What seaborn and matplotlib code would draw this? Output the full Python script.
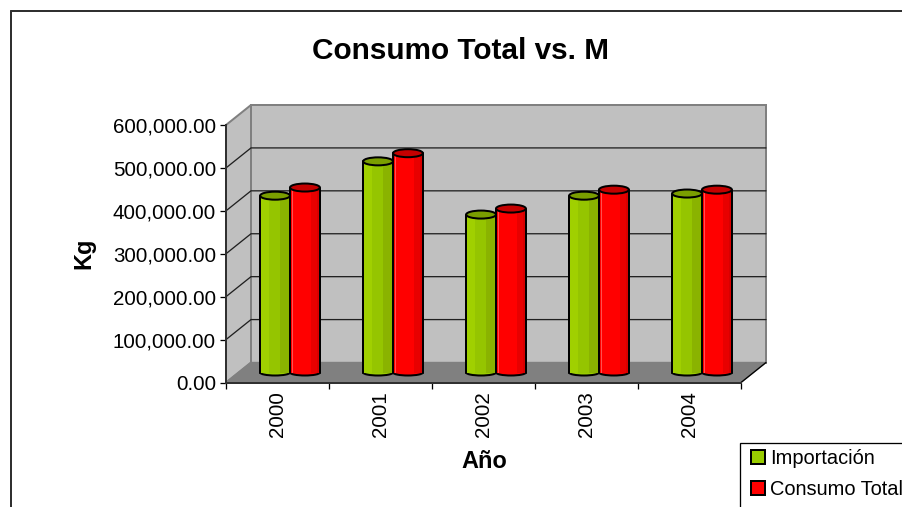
import matplotlib
matplotlib.use("Agg")
import matplotlib.pyplot as plt
from matplotlib.lines import Line2D
from matplotlib.patches import Ellipse, Patch, Polygon, Rectangle
from matplotlib.transforms import Affine2D, IdentityTransform
import pandas as pd
import seaborn as sns

years = ["2000", "2001", "2002", "2003", "2004"]
importacion = [412000, 492000, 368000, 412000, 417000]
consumo_total = [431000, 511000, 382000, 426000, 426000]
series_names = ["Importación", "Consumo Total"]
y_ticks = [0, 100000, 200000, 300000, 400000, 500000, 600000]

WIDTH, HEIGHT, DPI = 902, 507, 100
LEFT, RIGHT, BOTTOM, TOP = 226, 741, 382.5, 125
DEPTH_X, DEPTH_Y = 25, 20
WALL, FLOOR, WALL_EDGE = "#c0c0c0", "#808080", "#808080"
FILLS = ["#99cc00", "#ff0000"]
CAPS = ["#7a9e00", "#c40000"]
BANDS = [
    [(0.0, 0.30, "#a0d000"), (0.30, 0.65, "#95c500"), (0.65, 1.0, "#8ab300")],
    [(0.0, 0.06, "#ff0000"), (0.06, 0.10, "#ff5050"), (0.10, 0.70, "#ff0000"),
     (0.70, 0.90, "#e80000"), (0.90, 1.0, "#d80000")],
]


def pt(px):
    return px * 72 / DPI


sns.set_theme(style="white")
plt.rcParams["font.family"] = ["Liberation Sans", "DejaVu Sans"]

fig = plt.figure(figsize=(WIDTH / DPI, HEIGHT / DPI), dpi=DPI, facecolor="white")
ax = fig.add_axes([LEFT / WIDTH, 1 - BOTTOM / HEIGHT,
                   (RIGHT - LEFT) / WIDTH, (BOTTOM - TOP) / HEIGHT])
ax.patch.set_visible(False)

table = pd.DataFrame({
    "year": years * 2,
    "kg": importacion + consumo_total,
    "serie": [series_names[0]] * len(years) + [series_names[1]] * len(years),
})
sns.barplot(data=table, x="year", y="kg", hue="serie", palette=FILLS,
            width=0.58, gap=0, dodge=True, saturation=1, errorbar=None,
            legend=False, linewidth=0, ax=ax, zorder=5)
ax.set_xlim(-0.5, len(years) - 0.5)
ax.set_ylim(0, y_ticks[-1])


def project(x, y, depth=0.0):
    """Display position of a data point pushed back by a fraction of the depth."""
    px, py = ax.transData.transform((x, y))
    return px + DEPTH_X * depth, py + DEPTH_Y * depth


def flat(points, **kw):
    ax.add_patch(Polygon(points, closed=True, transform=IdentityTransform(),
                         clip_on=False, **kw))


x0, x1 = ax.get_xlim()
y0, y1 = ax.get_ylim()
edge = pt(2)

# Walls and floor of the 3D box
flat([project(x0, y0), project(x0, y1), project(x0, y1, 1), project(x0, y0, 1)],
     facecolor=WALL, edgecolor=WALL_EDGE, linewidth=edge, zorder=1)
flat([project(x0, y0, 1), project(x0, y1, 1), project(x1, y1, 1), project(x1, y0, 1)],
     facecolor=WALL, edgecolor=WALL_EDGE, linewidth=edge, zorder=1)
flat([project(x0, y0), project(x1, y0), project(x1, y0, 1), project(x0, y0, 1)],
     facecolor=FLOOR, edgecolor=FLOOR, linewidth=1, zorder=2)

# Gridlines run along the side wall and across the back wall
for tick in y_ticks[1:-1]:
    a, b, c = project(x0, tick), project(x0, tick, 1), project(x1, tick, 1)
    ax.add_line(Line2D([a[0], b[0], c[0]], [a[1], b[1], c[1]], color="#202020",
                       linewidth=pt(1.3), transform=IdentityTransform(),
                       clip_on=False, zorder=3))
a, b = project(x1, y0), project(x1, y0, 1)
ax.add_line(Line2D([a[0], b[0]], [a[1], b[1]], color="black", linewidth=pt(1.3),
                   transform=IdentityTransform(), clip_on=False, zorder=3))

# Bars stand halfway into the box and get a cylinder look
mid_depth = Affine2D().translate(DEPTH_X / 2, DEPTH_Y / 2)
bar_tf = ax.transData + mid_depth
per_px = (y1 - y0) / (BOTTOM - TOP)
z = 5.0
for container, caps, bands in zip(ax.containers, CAPS, BANDS):
    for bar in container:
        bx, bw, bh = bar.get_x(), bar.get_width(), bar.get_height()
        cx = bx + bw / 2
        ax.add_patch(Ellipse((cx, 0), bw, 6 * per_px, facecolor=bar.get_facecolor(),
                             edgecolor="black", linewidth=edge, transform=bar_tf,
                             clip_on=False, zorder=z))
        bar.set_transform(bar_tf)
        bar.set_clip_on(False)
        bar.set_zorder(z + 0.1)
        for start, stop, color in bands:
            ax.add_patch(Rectangle((bx + start * bw, 0), (stop - start) * bw, bh,
                                   facecolor=color, edgecolor="none",
                                   transform=bar_tf, clip_on=False, zorder=z + 0.2))
        for side in (bx, bx + bw):
            ax.add_line(Line2D([side, side], [0, bh], color="black", linewidth=edge,
                               transform=bar_tf, clip_on=False, zorder=z + 0.3))
        ax.add_patch(Ellipse((cx, bh), bw, 8 * per_px, facecolor=caps,
                             edgecolor="black", linewidth=edge, transform=bar_tf,
                             clip_on=False, zorder=z + 0.4))
        z += 1

# Axes and ticks on the front plane
for name, spine in ax.spines.items():
    spine.set_visible(name in ("left", "bottom"))
    spine.set_color("#303030")
    spine.set_linewidth(pt(2))
    spine.set_zorder(40)
ax.set_yticks(y_ticks)
ax.set_yticklabels([f"{v:,.2f}" for v in y_ticks])
ax.set_xticks(range(len(years)))
ax.set_xticks([i - 0.5 for i in range(len(years) + 1)], minor=True)
ax.set_xticklabels(years, rotation=90)
ax.tick_params(axis="y", left=True, length=pt(6), width=pt(1.3), color="black",
               labelsize=pt(20.5), pad=pt(4), labelcolor="black")
ax.tick_params(axis="x", which="major", bottom=False, labelsize=pt(20.5),
               pad=pt(0.5), labelcolor="black")
ax.tick_params(axis="x", which="minor", bottom=True, length=pt(6), width=pt(1.3),
               color="black")
ax.set_xlabel("")
ax.set_ylabel("")

fig.text(460 / WIDTH, 1 - 51 / HEIGHT, "Consumo Total vs. M", ha="center",
         va="center", fontsize=pt(29.8), fontweight="bold", color="black")
fig.text(484 / WIDTH, 1 - 461 / HEIGHT, "Año", ha="center", va="center",
         fontsize=pt(23.5), fontweight="bold", color="black")
fig.text(84 / WIDTH, 1 - 253 / HEIGHT, "Kg", ha="center", va="center", rotation=90,
         fontsize=pt(23.5), fontweight="bold", color="black")

# Chart frame continues past the right and lower edges of the figure
for xs, ys in (([10.5, 10.5], [HEIGHT, 11]), ([10.5, WIDTH], [11, 11])):
    fig.add_artist(Line2D([v / WIDTH for v in xs], [1 - v / HEIGHT for v in ys],
                          color="#303030", linewidth=pt(2), transform=fig.transFigure))

# Legend box also runs off the figure, so its frame is a separate rectangle
fig.add_artist(Rectangle((740 / WIDTH, -0.05), 0.3, 1.05 - 443 / HEIGHT,
                         facecolor="white", edgecolor="black", linewidth=pt(1.3),
                         transform=fig.transFigure))
handles = [Patch(facecolor=c, edgecolor="black", linewidth=pt(2)) for c in FILLS]
legend = fig.legend(handles, series_names, loc="upper left",
                    bbox_to_anchor=(751 / WIDTH, 1 - 449 / HEIGHT),
                    bbox_transform=fig.transFigure, frameon=False,
                    fontsize=pt(20), handlelength=0.7, handleheight=0.7,
                    handletextpad=0.25, labelspacing=0.6, borderpad=0,
                    borderaxespad=0, labelcolor="black")
legend.set_zorder(10)

fig.savefig("out.png", dpi=DPI, facecolor="white")
